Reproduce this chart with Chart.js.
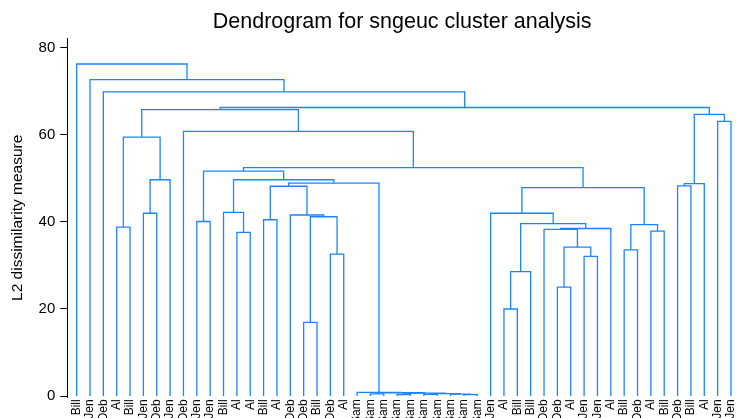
<!DOCTYPE html>
<html>
<head>
<meta charset="utf-8">
<script src="https://cdn.jsdelivr.net/npm/chart.js@4.4.1/dist/chart.umd.min.js"></script>
<style>
  html,body{margin:0;padding:0;background:#fff;overflow:hidden;}
  #wrap{width:737px;height:426px;}
</style>
</head>
<body>
<div id="wrap"><canvas id="dendro"></canvas></div>
<script>
// leaf order along the x axis
const leafLabels = [
  "Bill","Jen","Deb","Al","Bill","Jen","Deb","Jen","Deb","Jen",
  "Jen","Bill","Al","Al","Bill","Al","Deb","Deb","Bill","Deb",
  "Al","Sam","Sam","Sam","Sam","Sam","Sam","Sam","Sam","Sam",
  "Sam","Jen","Al","Bill","Bill","Deb","Deb","Al","Jen","Jen",
  "Al","Bill","Deb","Al","Bill","Deb","Bill","Al","Jen","Jen"
];

// merges: child ids (0-49 leaves, 50+k = merge k) and height
const mergeA = [29,28,26,52,24,54,22,56,21,17, 32,36,60,38,19,41,61,12,43,35,
                69,3,65,62,9,14,59,16,5,31, 11,75,45,82,81,79,80,78,74,88,
                71,8,48,83,90,94,2,1,0];
const mergeB = [30,50,27,51,25,53,23,55,57,18, 33,37,34,39,20,42,63,13,44,66,
                40,4,68,70,10,15,64,76,6,73, 67,77,46,47,58,72,84,7,86,85,
                87,89,49,92,91,93,95,96,97];
const mergeHeight = [0.3,0.45,0.4,0.55,0.35,0.65,0.5,0.75,0.85,16.9,
                     20.0,25.0,28.6,32.1,32.6,33.6,34.2,37.6,37.9,38.3,
                     38.5,38.8,39.4,39.6,40.1,40.5,41.2,41.6,42.0,42.0,
                     42.2,48.2,48.3,48.8,48.9,47.9,49.7,49.7,51.7,52.5,
                     59.5,60.8,63.1,64.7,65.8,66.3,69.9,72.7,76.3];

const yTicks = [0,20,40,60,80];

// ---- node positions ----
const nLeaf = leafLabels.length;
const nodeX = leafLabels.map((_,i)=>i);
const nodeH = leafLabels.map(()=>0);
const datasets = [];
mergeA.forEach((a,k)=>{
  const b = mergeB[k], h = mergeHeight[k];
  nodeX[nLeaf+k] = (nodeX[a]+nodeX[b])/2;
  nodeH[nLeaf+k] = h;
  datasets.push({
    data:[
      {x:nodeX[a],y:nodeH[a]},
      {x:nodeX[a],y:h},
      {x:nodeX[b],y:h},
      {x:nodeX[b],y:nodeH[b]}
    ],
    showLine:true,
    borderColor:"#1a85ff",
    borderWidth:1.3,
    pointRadius:0,
    tension:0,
    fill:false
  });
});

const FONT = "'Liberation Sans', Arial, Helvetica, sans-serif";

new Chart(document.getElementById("dendro").getContext("2d"),{
  type:"scatter",
  data:{ datasets },
  options:{
    responsive:true,
    maintainAspectRatio:false,
    animation:false,
    events:[],
    layout:{ padding:{ left:4, right:0, top:0, bottom:0 } },
    plugins:{
      legend:{ display:false },
      tooltip:{ enabled:false },
      title:{
        display:true,
        text:"Dendrogram for sngeuc cluster analysis",
        color:"#000",
        fullSize:false,
        font:{ family:FONT, size:21.5, weight:"normal" },
        padding:{ top:9, bottom:3.5 }
      }
    },
    scales:{
      x:{
        type:"linear",
        min:-0.7,
        max:49.45,
        border:{ display:false },
        grid:{ display:false, drawTicks:false },
        afterBuildTicks:s=>{ s.ticks = leafLabels.map((_,i)=>({value:i})); },
        afterFit:s=>{ s.paddingLeft = 0; s.paddingRight = 0; },
        ticks:{
          autoSkip:false,
          minRotation:90,
          maxRotation:90,
          padding:2,
          color:"#000",
          font:{ family:FONT, size:12 },
          callback:v=>leafLabels[v]
        }
      },
      y:{
        type:"linear",
        min:-0.3,
        max:82.2,
        border:{ display:true, color:"#000", width:1 },
        grid:{ drawOnChartArea:false, drawTicks:true, tickLength:7, color:"#000" },
        afterBuildTicks:s=>{ s.ticks = yTicks.map(v=>({value:v})); },
        ticks:{
          padding:5,
          color:"#000",
          font:{ family:FONT, size:15 }
        },
        title:{
          display:true,
          text:"L2 dissimilarity measure",
          color:"#000",
          font:{ family:FONT, size:15.5 },
          padding:{ top:4, bottom:7 }
        }
      }
    }
  }
});
</script>
</body>
</html>
